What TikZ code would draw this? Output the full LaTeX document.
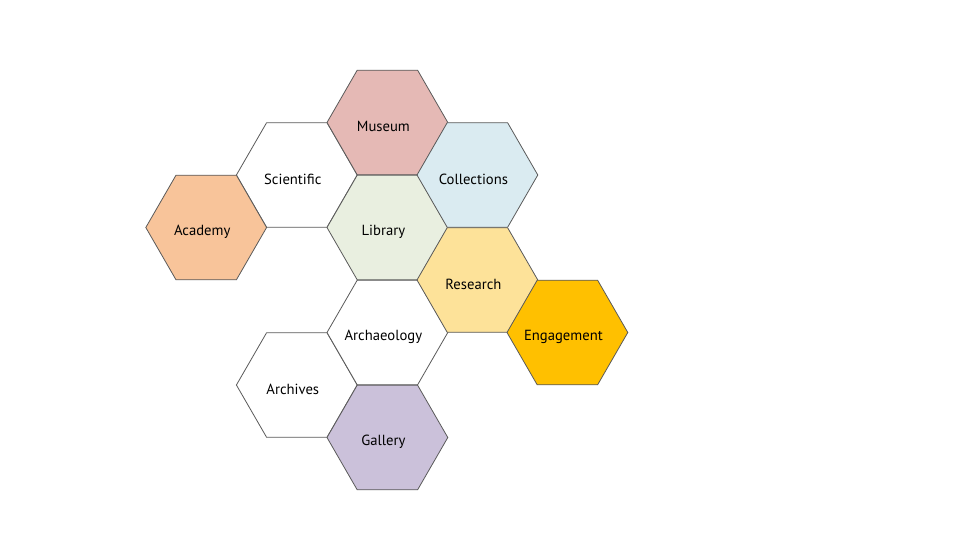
\documentclass[tikz,border=0pt]{standalone}
\usepackage{fontspec}
\setmainfont{PT Sans}
\usetikzlibrary{shapes.geometric}
\definecolor{museumc}{HTML}{E5B9B5}
\definecolor{collectc}{HTML}{DAEBF1}
\definecolor{libraryc}{HTML}{E9EFE0}
\definecolor{researchc}{HTML}{FDE299}
\definecolor{engagec}{HTML}{FFC000}
\definecolor{academyc}{HTML}{F8C49A}
\definecolor{galleryc}{HTML}{CBC1DA}
\definecolor{edgec}{HTML}{5A5A5A}
% flat-topped hexagon cell, circumradius 60.4px; label a little left of and below centre
\tikzset{
  hexa/.style={regular polygon, regular polygon sides=6, minimum size=90.6pt,
    inner sep=0pt, outer sep=0pt, draw=edgec, line width=0.6pt, fill=white,
    label={[font=\fontsize{11}{13}\selectfont, text=black, xshift=-3pt, yshift=-3.2pt]center:#1}}
}
\begin{document}
\begin{tikzpicture}[x=0.75pt, y=-0.75pt]
  \useasboundingbox (0,0) rectangle (960,560);
  \node[hexa=Scientific]                   (sci)  at (296.8,175) {};
  \node[hexa=Academy, fill=academyc]       (aca)  at (206.2,227.5) {};
  \node[hexa=Archives]                     (arv)  at (296.8,385) {};
  \node[hexa=Archaeology]                  (arc)  at (387.4,332.5) {};
  \node[hexa=Museum, fill=museumc]         (mus)  at (387.4,122.5) {};
  \node[hexa=Library, fill=libraryc]       (lib)  at (387.4,227.5) {};
  \node[hexa=Gallery, fill=galleryc]       (gal)  at (387.4,437.5) {};
  \node[hexa=Collections, fill=collectc]   (col)  at (477.4,175) {};
  \node[hexa=Research, fill=researchc]     (res)  at (477.4,280) {};
  \node[hexa=Engagement, fill=engagec]     (eng)  at (567.4,332.5) {};
\end{tikzpicture}
\end{document}
